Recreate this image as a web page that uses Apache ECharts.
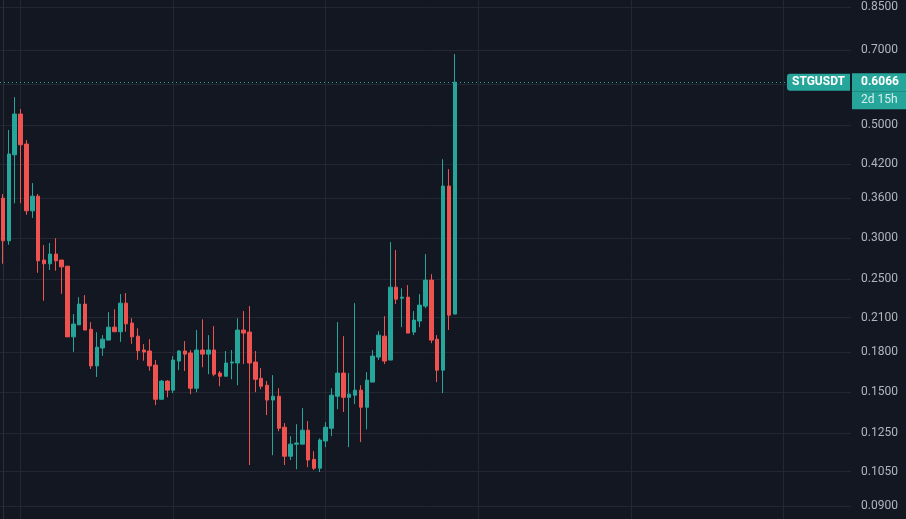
<!DOCTYPE html>
<html>
<head>
<meta charset="utf-8">
<style>
  html, body { margin: 0; padding: 0; background: #131722; }
  #main { width: 906px; height: 519px; }
</style>
<script src="https://cdn.jsdelivr.net/npm/echarts@6/dist/echarts.min.js"></script>
</head>
<body>
<div id="main"></div>
<script>
// STGUSDT candles, oldest first
const open = [0.3597,0.2969,0.4373,0.5253,0.4589,0.3398,0.3630,0.2722,0.2677,0.2796,
  0.2722,0.2648,0.1926,0.2033,0.2232,0.1993,0.1690,0.1832,0.1898,0.2012,
  0.1971,0.2242,0.2049,0.1932,0.1815,0.1807,0.1696,0.1454,0.1578,0.1515,
  0.1727,0.1807,0.1791,0.1528,0.1815,0.1782,0.1815,0.1636,0.1613,0.1712,
  0.1712,0.1986,0.1968,0.1719,0.1598,0.1549,0.1449,0.1474,0.1282,0.1125,
  0.1188,0.1188,0.1265,0.1109,0.1066,0.1205,0.1276,0.1474,0.1636,0.1467,
  0.1481,0.1515,0.1403,0.1571,0.1758,0.1932,0.1735,0.2409,0.2292,0.2303,
  0.1968,0.2068,0.2212,0.2487,0.1906,0.1658,0.3798,0.2134];
const close = [0.2969,0.4388,0.5253,0.4574,0.3398,0.3630,0.2713,0.2677,0.2796,0.2713,
  0.2640,0.1926,0.2040,0.2232,0.1986,0.1690,0.1838,0.1906,0.2012,0.1971,
  0.2242,0.2042,0.1926,0.1809,0.1799,0.1690,0.1454,0.1578,0.1515,0.1735,
  0.1807,0.1782,0.1528,0.1815,0.1782,0.1815,0.1628,0.1613,0.1712,0.1719,
  0.1986,0.1959,0.1712,0.1591,0.1542,0.1449,0.1474,0.1276,0.1125,0.1188,
  0.1194,0.1265,0.1106,0.1066,0.1210,0.1282,0.1481,0.1636,0.1467,0.1488,
  0.1515,0.1403,0.1585,0.1766,0.1941,0.1727,0.2409,0.2282,0.2303,0.1959,
  0.2077,0.2222,0.2487,0.1898,0.1658,0.3798,0.2124,0.6066];
const low = [0.2677,0.2915,0.3514,0.3514,0.3337,0.3291,0.2570,0.2266,0.2603,0.2594,
  0.2338,0.1926,0.1801,0.2033,0.1986,0.1667,0.1608,0.1768,0.1898,0.1971,
  0.1883,0.1971,0.1866,0.1736,0.1730,0.1653,0.1416,0.1454,0.1467,0.1495,
  0.1658,0.1651,0.1488,0.1501,0.1680,0.1628,0.1613,0.1542,0.1613,0.1591,
  0.1549,0.1704,0.1081,0.1501,0.1521,0.1354,0.1130,0.1259,0.1081,0.1106,
  0.1061,0.1188,0.1071,0.1057,0.1048,0.1172,0.1231,0.1390,0.1373,0.1172,
  0.1423,0.1199,0.1270,0.1571,0.1735,0.1704,0.1735,0.2232,0.2012,0.1959,
  0.1941,0.2012,0.2191,0.1872,0.1571,0.1495,0.1986,0.2134];
const high = [0.3664,0.4889,0.5670,0.5373,0.4673,0.3850,0.3664,0.2911,0.2938,0.3004,
  0.2722,0.2648,0.2134,0.2303,0.2324,0.2058,0.1968,0.1941,0.2153,0.2181,
  0.2335,0.2346,0.2095,0.2002,0.1864,0.1906,0.1735,0.1585,0.1585,0.1766,
  0.1815,0.1889,0.1815,0.1986,0.2085,0.1941,0.2021,0.1651,0.1807,0.1815,
  0.2095,0.2163,0.2212,0.1807,0.1673,0.1578,0.1621,0.1528,0.1306,0.1231,
  0.1300,0.1397,0.1318,0.1151,0.1219,0.1312,0.1528,0.2058,0.1932,0.1636,
  0.2242,0.1549,0.1643,0.1815,0.1977,0.2114,0.2951,0.2847,0.2397,0.2431,
  0.2163,0.2335,0.2796,0.2555,0.1941,0.4287,0.4098,0.6884];

// price scale (log), ticks and the visible range
const yTicks = [0.85, 0.7, 0.6, 0.5, 0.42, 0.36, 0.3, 0.25, 0.21, 0.18, 0.15, 0.125, 0.105, 0.09];
const yLabels = [0.85, 0.7, 0.5, 0.42, 0.36, 0.3, 0.25, 0.21, 0.18, 0.15, 0.125, 0.105, 0.09];
const yRange = [0.0848, 0.8781];

// time scale: bar slots on screen and the bars where the time grid lines fall
const slotCount = 145;
const timeLines = [3, 29, 55, 81, 107, 133];

const symbol = 'STGUSDT';
const lastPrice = 0.6066;
const countdown = '2d 15h';

const up = '#26a69a';
const down = '#ef5350';
const gridColor = '#232733';
const font = 'Roboto, "Liberation Sans", sans-serif';

const ln = Math.log;
const candles = open.map((o, i) => [ln(o), ln(close[i]), ln(low[i]), ln(high[i])]);
const slots = Array.from({ length: slotCount }, (_, i) => i);

const chart = echarts.init(document.getElementById('main'));
chart.setOption({
  backgroundColor: '#131722',
  animation: false,
  grid: { left: 0, right: 55, top: 0, bottom: 0 },
  xAxis: [
    { type: 'category', data: slots, show: false },
    {
      type: 'value',
      min: -0.5,
      max: slotCount - 0.5,
      axisLine: { show: false },
      axisTick: { show: false, customValues: timeLines },
      axisLabel: { show: false },
      splitLine: { show: true, lineStyle: { color: gridColor, width: 1 } }
    }
  ],
  yAxis: {
    type: 'value',
    position: 'right',
    min: ln(yRange[0]),
    max: ln(yRange[1]),
    axisLine: { show: true, lineStyle: { color: '#2a2e39' } },
    axisTick: { show: false, customValues: yTicks.map(ln) },
    axisLabel: {
      customValues: yLabels.map(ln),
      margin: 10,
      color: '#b2b5be',
      fontSize: 12,
      fontFamily: font,
      formatter: v => Math.exp(v).toFixed(4)
    },
    splitLine: { show: true, lineStyle: { color: gridColor, width: 1 } }
  },
  series: [{
    type: 'candlestick',
    xAxisIndex: 0,
    yAxisIndex: 0,
    data: candles,
    barWidth: 4,
    itemStyle: {
      color: up,
      color0: down,
      borderColor: up,
      borderColor0: down,
      borderWidth: 1
    },
    markLine: {
      silent: true,
      symbol: ['none', 'none'],
      lineStyle: { color: up, type: [1, 3], width: 1 },
      data: [
        {
          yAxis: ln(lastPrice),
          label: {
            position: 'end',
            distance: 1,
            formatter: '{e| }\n{p|' + lastPrice.toFixed(4) + '}\n{t|' + countdown + '}',
            rich: {
              e: { width: 45, height: 18, lineHeight: 18, padding: [0, 0, 0, 9] },
              p: {
                width: 45, height: 18, lineHeight: 18, padding: [0, 0, 0, 9],
                backgroundColor: up, color: '#ffffff', fontWeight: 'bold',
                fontSize: 12, fontFamily: font
              },
              t: {
                width: 45, height: 18, lineHeight: 18, padding: [0, 0, 0, 9],
                backgroundColor: up, color: 'rgba(255,255,255,0.82)',
                fontSize: 12, fontFamily: font
              }
            }
          }
        },
        {
          yAxis: ln(lastPrice),
          label: {
            position: 'insideEnd',
            distance: 1,
            formatter: symbol,
            color: '#ffffff',
            fontWeight: 'bold',
            fontSize: 12,
            fontFamily: font,
            lineHeight: 13,
            backgroundColor: up,
            padding: [2, 5, 2, 5],
            borderRadius: [3, 0, 0, 3]
          }
        }
      ]
    }
  }]
});
</script>
</body>
</html>
